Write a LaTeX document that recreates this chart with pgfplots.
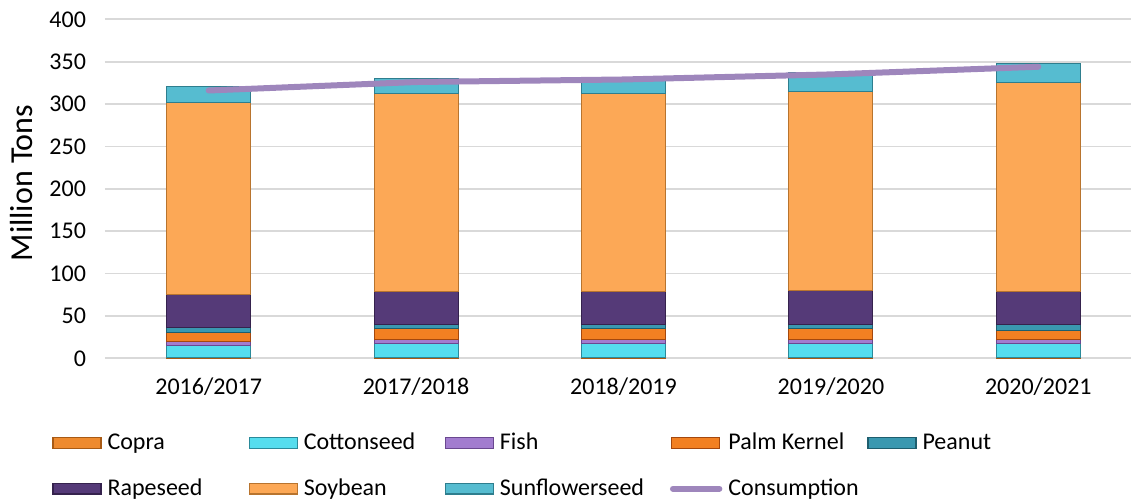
\documentclass[border=0pt]{standalone}
\usepackage{fontspec}
\setmainfont{Carlito}
\usepackage{pgfplots}
\usepackage{pgfplotstable}
\pgfplotsset{compat=1.18}

\definecolor{copra}{HTML}{EE8A2E}
\definecolor{copraD}{HTML}{A85A14}
\definecolor{cotton}{HTML}{55DDEE}
\definecolor{cottonD}{HTML}{2A8A9A}
\definecolor{fish}{HTML}{A27CCF}
\definecolor{fishD}{HTML}{6A4890}
\definecolor{palm}{HTML}{F28022}
\definecolor{palmD}{HTML}{A4480E}
\definecolor{peanut}{HTML}{3A98B0}
\definecolor{peanutD}{HTML}{1E5E6E}
\definecolor{rape}{HTML}{553A78}
\definecolor{rapeD}{HTML}{35224D}
\definecolor{soy}{HTML}{FCA856}
\definecolor{soyD}{HTML}{B8742E}
\definecolor{sunfl}{HTML}{56BCD0}
\definecolor{sunflD}{HTML}{2E7E8E}
\definecolor{consum}{HTML}{9E86BC}
\definecolor{gridc}{HTML}{D9D9D9}

\pgfplotsset{
    lineleg/.style={legend image code/.code={\draw[##1, line cap=round] (0.8pt,0pt) -- (24pt,0pt);}},
}

% protein meal, million tons
\pgfplotstableread{
x Copra Cottonseed Fish PalmKernel Peanut Rapeseed Soybean Sunflowerseed Consumption
0 1.5 14.1 4.0 10.6 5.8 39.0 226.5 19.5 316
1 1.5 16.1 4.8 12.6 5.0 39.0 233.0 18.5 326
2 1.5 16.1 4.6 12.6 5.2 39.5 233.0 18.5 329
3 1.5 16.1 4.6 12.8 5.5 39.5 235.5 22.0 335
4 1.5 16.1 4.4 11.0 7.0 39.0 246.0 23.0 344
}\meal

\begin{document}
\begin{tikzpicture}
\begin{axis}[
    at={(52.5pt,70.35pt)}, anchor=south west,
    scale only axis,
    width=513pt, height=169.5pt,
    ybar stacked,
    reverse stacked plots=false,
    bar width=0.405,
    xmin=-0.5, xmax=4.447,
    ymin=0, ymax=400,
    ytick distance=50,
    xtick=data,
    xticklabels={2016/2017,2017/2018,2018/2019,2019/2020,2020/2021},
    ymajorgrids,
    grid style={gridc, line width=0.9pt},
    axis line style={draw=none},
    tick style={draw=none},
    /pgf/number format/assume math mode=true,
    ticklabel style={font=\fontsize{12}{14}\selectfont},
    yticklabel style={xshift=-6pt},
    xticklabel style={yshift=-6pt},
    ylabel={Million Tons},
    ylabel style={at={(axis description cs:-0.081,0.517)}, anchor=center,
        font=\fontsize{16}{19}\selectfont},
    legend columns=5,
    legend image code/.code={\draw[#1, line width=0.6pt] (0pt,-2.6pt) rectangle (24pt,2.6pt);},
    legend style={
        at={(axis description cs:-0.0517,-0.211)}, anchor=north west,
        draw=none, inner sep=0pt, column sep=0pt, row sep=10pt,
        font=\fontsize{12}{14}\selectfont,
        nodes={inner ysep=1.5pt, inner xsep=3pt, anchor=west},
    },
]
\addplot[fill=copra, draw=copraD] table[x=x, y=Copra] {\meal};
\addlegendentry{\makebox[67.5pt][l]{Copra}}
\addplot[fill=cotton, draw=cottonD] table[x=x, y=Cottonseed] {\meal};
\addlegendentry{\makebox[67.5pt][l]{Cottonseed}}
\addplot[fill=fish, draw=fishD] table[x=x, y=Fish] {\meal};
\addlegendentry{\makebox[82pt][l]{Fish}}
\addplot[fill=palm, draw=palmD] table[x=x, y=PalmKernel] {\meal};
\addlegendentry{\makebox[66.5pt][l]{Palm Kernel}}
\addplot[fill=peanut, draw=peanutD] table[x=x, y=Peanut] {\meal};
\addlegendentry{Peanut}
\addplot[fill=rape, draw=rapeD] table[x=x, y=Rapeseed] {\meal};
\addlegendentry{\makebox[67.5pt][l]{Rapeseed}}
\addplot[fill=soy, draw=soyD] table[x=x, y=Soybean] {\meal};
\addlegendentry{\makebox[67.5pt][l]{Soybean}}
\addplot[fill=sunfl, draw=sunflD] table[x=x, y=Sunflowerseed] {\meal};
\addlegendentry{\makebox[82pt][l]{Sunflowerseed}}
\addplot[sharp plot, stack plots=false, color=consum, line width=3pt,
    line cap=round, mark=none, lineleg]
    table[x=x, y=Consumption] {\meal};
\addlegendentry{Consumption}
\end{axis}
\pgfresetboundingbox
\path (0,0) rectangle (565.5pt,249.5pt);
\end{tikzpicture}
\end{document}
